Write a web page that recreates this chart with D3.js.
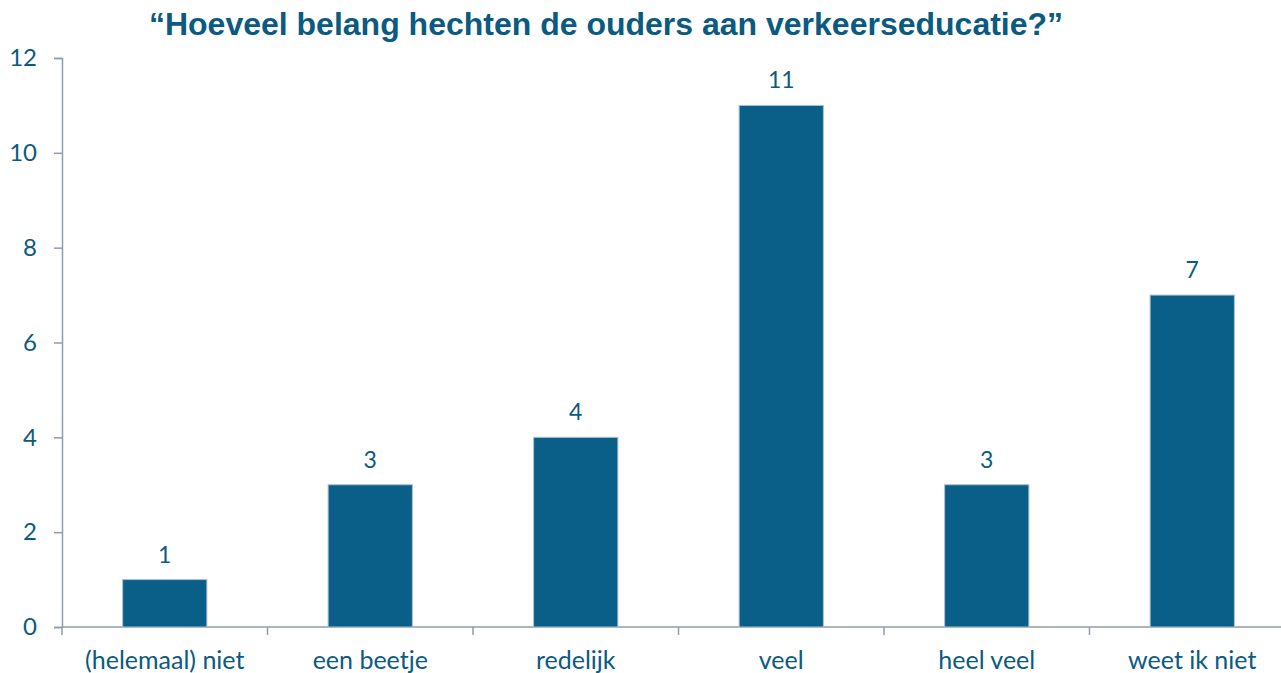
<!DOCTYPE html>
<head>
<meta charset="utf-8">
<style>
body { margin: 0; background: white; }
text { font-family: Lato, "Open Sans", sans-serif; fill: #0b5a80; }
.title { font-family: "Liberation Sans", Arial, sans-serif; font-weight: bold; font-size: 32px; }
.axis path, .axis line { stroke: #8e9cab; stroke-width: 1.5px; }
</style>
</head>
<body>
<svg width="1281" height="673"></svg>
<script src="https://d3js.org/d3.v7.min.js"></script>
<script>
var categories = ["(helemaal) niet", "een beetje", "redelijk", "veel", "heel veel", "weet ik niet"];
var values = [1, 3, 4, 11, 3, 7];
var yTicks = [0, 2, 4, 6, 8, 10, 12];

var svg = d3.select("svg");
var mLeft = 62, mRight = 1295, mTop = 58, mBottom = 627;

var x = d3.scaleBand().domain(categories).range([mLeft, mRight])
  .paddingInner(0.59).paddingOuter(0.295);
var y = d3.scaleLinear().domain([0, 12]).range([mBottom, mTop]);

svg.append("text").attr("class", "title")
  .attr("x", 606).attr("y", 35).attr("text-anchor", "middle")
  .text("\u201CHoeveel belang hechten de ouders aan verkeerseducatie?\u201D");

// y axis
var ya = svg.append("g").attr("class", "axis")
  .attr("transform", "translate(" + mLeft + ",0)")
  .call(d3.axisLeft(y).tickValues(yTicks).tickSize(8).tickSizeOuter(8).tickPadding(17));
ya.selectAll("text").style("font-size", "24px").style("fill", "#0b5a80")
  .style("font-family", "Lato, sans-serif");

// x axis with ticks at band boundaries
var xa = svg.append("g").attr("class", "axis")
  .attr("transform", "translate(0," + mBottom + ")");
xa.append("line").attr("x1", mLeft).attr("x2", mRight);
var step = x.step();
var bounds = d3.range(categories.length + 1).map(i => mLeft + i * step);
xa.selectAll(".tk").data(bounds).enter().append("line")
  .attr("x1", d => d).attr("x2", d => d).attr("y1", 0).attr("y2", 8);
xa.selectAll(".lab").data(categories).enter().append("text")
  .attr("x", d => x(d) + x.bandwidth() / 2).attr("y", 42)
  .attr("text-anchor", "middle").style("font-size", "25px")
  .text(d => d);

// bars
svg.selectAll(".bar").data(values).enter().append("rect")
  .attr("x", (d, i) => x(categories[i]))
  .attr("y", d => y(d))
  .attr("width", x.bandwidth())
  .attr("height", d => mBottom - y(d))
  .attr("fill", "#095f88")
  .attr("stroke", "#a9c0cf").attr("stroke-width", 1);

svg.selectAll(".val").data(values).enter().append("text")
  .attr("x", (d, i) => x(categories[i]) + x.bandwidth() / 2)
  .attr("y", d => y(d) - 17)
  .attr("text-anchor", "middle").style("font-size", "23px")
  .text(d => d);
</script>
</body>
